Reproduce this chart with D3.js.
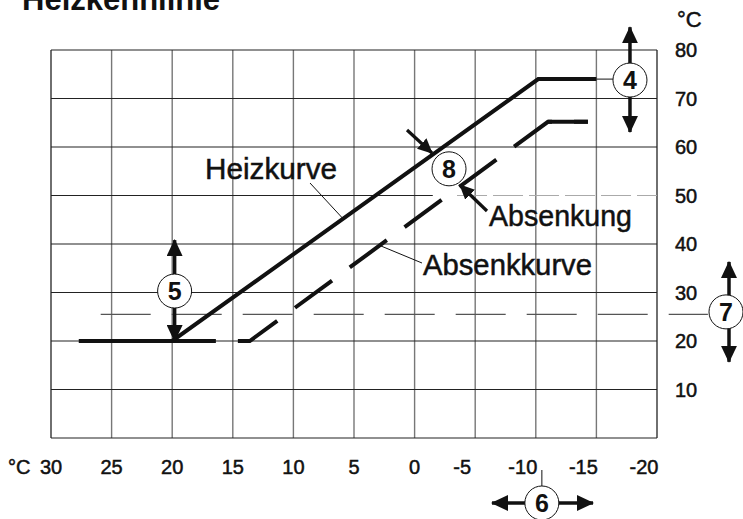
<!DOCTYPE html>
<html>
<head>
<meta charset="utf-8">
<script src="https://cdn.jsdelivr.net/npm/d3@7"></script>
<style>
  body { margin: 0; background: #fff; }
  svg { display: block; font-family: "Liberation Sans", Arial, sans-serif; }
</style>
</head>
<body>
<svg width="743" height="519"></svg>
<script>
// Aussentemperatur (x) und Vorlauftemperatur (y)
var xTicks = [30, 25, 20, 15, 10, 5, 0, -5, -10, -15, -20];
var yTicks = [10, 20, 30, 40, 50, 60, 70, 80];
var heizkurve = [[27.7, 20], [20, 20], [-10.2, 74], [-15, 74]];
var absenkkurve = [[27.7, 20], [13.6, 20], [-11, 65.2], [-14.3, 65.2]];
var raumLinie = {y: 25.5, from: 25.9, to: -24.2};

var svg = d3.select("svg"),
    width = +svg.attr("width"),
    height = +svg.attr("height");

var x = d3.scaleLinear().domain([30, -20]).range([51, 657]),
    y = d3.scaleLinear().domain([0, 80]).range([438, 50]);

var defs = svg.append("defs");
defs.append("marker")
    .attr("id", "head")
    .attr("markerUnits", "userSpaceOnUse")
    .attr("viewBox", "0 0 17 16")
    .attr("markerWidth", 17).attr("markerHeight", 16)
    .attr("refX", 16).attr("refY", 8)
    .attr("orient", "auto")
  .append("path").attr("d", "M0,0L17,8L0,16Z").attr("fill", "#111");
defs.append("marker")
    .attr("id", "headS")
    .attr("markerUnits", "userSpaceOnUse")
    .attr("viewBox", "0 0 15 14")
    .attr("markerWidth", 15).attr("markerHeight", 14)
    .attr("refX", 14).attr("refY", 7)
    .attr("orient", "auto")
  .append("path").attr("d", "M0,0L15,7L0,14Z").attr("fill", "#111");

// title (oben abgeschnitten wie im Original)
svg.append("text")
    .attr("x", 22).attr("y", 10)
    .attr("font-size", 31).attr("font-weight", "bold")
    .attr("fill", "#111")
    .text("Heizkennlinie");

// grid
var grid = svg.append("g");
grid.selectAll("line.v")
    .data(xTicks)
    .enter().append("line")
    .attr("class", "v")
    .attr("x1", function(d) { return x(d); }).attr("x2", function(d) { return x(d); })
    .attr("y1", y(80)).attr("y2", y(0))
    .attr("stroke", function(d, i) { return (i == 0 || i == xTicks.length - 1) ? "#333" : "#777"; })
    .attr("stroke-width", 1.4);
grid.selectAll("line.h")
    .data([0].concat(yTicks))
    .enter().append("line")
    .attr("class", "h")
    .attr("x1", x(30))
    .attr("x2", function(d) { return d == 50 ? x(-1.5) : x(-20); })
    .attr("y1", function(d) { return y(d); }).attr("y2", function(d) { return y(d); })
    .attr("stroke", "#222")
    .attr("stroke-width", 1.2);
// rechter Teil der 50er-Linie nur schwach
grid.append("line")
    .attr("x1", x(-3.5)).attr("x2", x(-20))
    .attr("y1", y(50)).attr("y2", y(50))
    .attr("stroke", "#aaa").attr("stroke-width", 1)
    .attr("stroke-dasharray", "30,6");

// y labels
svg.append("g").selectAll("text")
    .data(yTicks)
    .enter().append("text")
    .attr("x", 675)
    .attr("y", function(d) { return y(d) + 7; })
    .attr("font-size", 20)
    .attr("fill", "#111").attr("stroke", "#111").attr("stroke-width", 0.5)
    .text(function(d) { return d; });
svg.append("text")
    .attr("x", 677).attr("y", 27)
    .attr("font-size", 22)
    .attr("fill", "#111").attr("stroke", "#111").attr("stroke-width", 0.5)
    .text("°C");

// x labels
svg.append("g").selectAll("text")
    .data(xTicks)
    .enter().append("text")
    .attr("x", function(d) { return x(d) + (d < 0 ? -13 : 0); })
    .attr("y", 474)
    .attr("text-anchor", "middle")
    .attr("font-size", 20)
    .attr("fill", "#111").attr("stroke", "#111").attr("stroke-width", 0.5)
    .text(function(d) { return d; });
svg.append("text")
    .attr("x", 8).attr("y", 474)
    .attr("font-size", 20)
    .attr("fill", "#111").attr("stroke", "#111").attr("stroke-width", 0.5)
    .text("°C");

// duenne gestrichelte Linie (Raumtemperatur)
svg.append("line")
    .attr("x1", x(raumLinie.from)).attr("x2", x(raumLinie.to))
    .attr("y1", y(raumLinie.y)).attr("y2", y(raumLinie.y))
    .attr("stroke", "#555").attr("stroke-width", 1.1)
    .attr("stroke-dasharray", "50,21");

var line = d3.line()
    .x(function(d) { return x(d[0]); })
    .y(function(d) { return y(d[1]); });

// Absenkkurve gestrichelt, Begrenzung oben durchgezogen
svg.append("path")
    .attr("d", line(absenkkurve))
    .attr("fill", "none").attr("stroke", "#111").attr("stroke-width", 4)
    .attr("stroke-dasharray", "46,22").attr("stroke-dashoffset", 45);
svg.append("path")
    .attr("d", line(absenkkurve.slice(2)))
    .attr("fill", "none").attr("stroke", "#111").attr("stroke-width", 4);

svg.append("path")
    .attr("d", line(heizkurve))
    .attr("fill", "none").attr("stroke", "#111").attr("stroke-width", 4)
    .attr("stroke-linejoin", "miter");

// Beschriftungen mit Hinweislinien
function thin(x1, y1, x2, y2) {
  svg.append("line")
      .attr("x1", x1).attr("y1", y1).attr("x2", x2).attr("y2", y2)
      .attr("stroke", "#111").attr("stroke-width", 1);
}
thin(310, 183, x(5.9), y(45.2));
thin(381, 246, 422, 263);
thin(x(-15), y(74), 613, y(74));
thin(x(-10.5), 470, x(-10.5), 486);

function label(t, lx, ly, len) {
  svg.append("text")
      .attr("x", lx).attr("y", ly)
      .attr("font-size", 30)
      .attr("textLength", len).attr("lengthAdjust", "spacingAndGlyphs")
      .attr("fill", "#111").attr("stroke", "#111").attr("stroke-width", 0.5)
      .text(t);
}
label("Heizkurve", 205, 179, 132);
label("Absenkung", 489, 226, 143);
label("Absenkkurve", 423, 275, 169);

// Pfeile
function arrow(x1, y1, x2, y2, m, w) {
  svg.append("line")
      .attr("x1", x1).attr("y1", y1).attr("x2", x2).attr("y2", y2)
      .attr("stroke", "#111").attr("stroke-width", w)
      .attr("marker-end", "url(#" + m + ")");
}
// 4
arrow(x(-17.77), y(73.8), x(-17.77), y(84.7), "head", 3.5);
arrow(x(-17.77), y(73.8), x(-17.77), y(63.1), "head", 3.5);
// 5
arrow(x(19.8), y(30.3), x(19.8), y(40.8), "head", 3.5);
arrow(x(19.8), y(30.3), x(19.8), y(20), "head", 3.5);
// 7
arrow(729, y(26), 729, y(36.3), "head", 3.5);
arrow(729, y(26), 729, y(15.7), "head", 3.5);
// 6
arrow(x(-10.5), 503, 492, 503, "head", 3.5);
arrow(x(-10.5), 503, 593, 503, "head", 3.5);
// 8
arrow(407, 130, 432, 153, "headS", 3.2);
arrow(487, 211, 460, 185, "headS", 3.2);

var circles = [
  {n: "4", cx: x(-17.77), cy: y(73.8)},
  {n: "5", cx: x(19.8), cy: y(30.3)},
  {n: "7", cx: 726, cy: y(26)},
  {n: "6", cx: x(-10.5), cy: 503},
  {n: "8", cx: x(-2.84), cy: y(55.5)}
];
var c = svg.append("g").selectAll("g")
    .data(circles)
    .enter().append("g")
    .attr("transform", function(d) { return "translate(" + d.cx + "," + d.cy + ")"; });
c.append("circle")
    .attr("r", 17)
    .attr("fill", "#fff").attr("stroke", "#111").attr("stroke-width", 1);
c.append("text")
    .attr("y", 9)
    .attr("text-anchor", "middle")
    .attr("font-size", 25).attr("font-weight", "bold")
    .attr("fill", "#111")
    .text(function(d) { return d.n; });
</script>
</body>
</html>
